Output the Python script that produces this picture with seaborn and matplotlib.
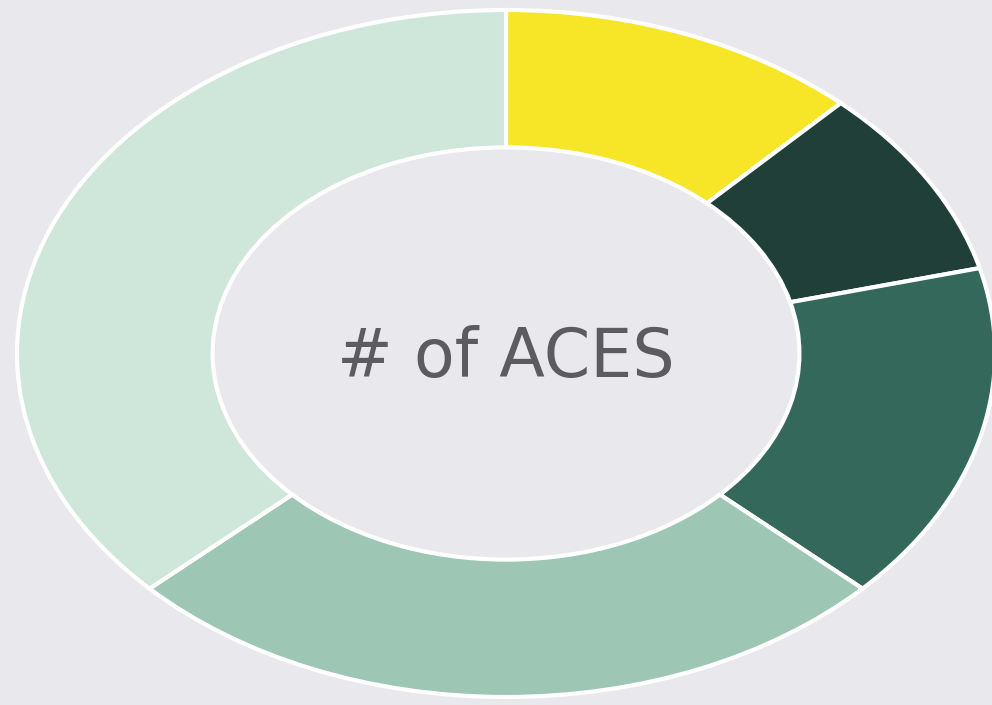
import matplotlib
matplotlib.use("Agg")
import matplotlib.pyplot as plt
import seaborn as sns

categories = ["Group 1", "Group 2", "Group 3", "Group 4", "Group 5"]
values = [12, 9, 16, 26, 37]
colors = ["#F7E628", "#1F3F38", "#33685A", "#9DC6B4", "#CFE6DB"]
center_label = "# of ACES"

sns.set_theme(style="white")
plt.rcParams["font.family"] = ["DejaVu Sans"]

bg = "#E9E9ED"
fig = plt.figure(figsize=(9.92, 7.05), dpi=100, facecolor=bg)
ax = fig.add_axes([0, 0, 1, 1])
ax.set_facecolor(bg)

ax.pie(values, labels=None, colors=colors, startangle=90, counterclock=False,
       radius=1.0,
       wedgeprops=dict(width=0.40, edgecolor="white", linewidth=3))
ax.set_aspect("auto")
ax.set_xlim(-1.0348, 0.9938)
ax.set_ylim(-1.0233, 1.0291)
ax.axis("off")

ax.text(0.0, -0.012, center_label, ha="center", va="center", fontsize=48,
        color="#5C5C60")

fig.savefig("out.png", dpi=100, facecolor=bg)
